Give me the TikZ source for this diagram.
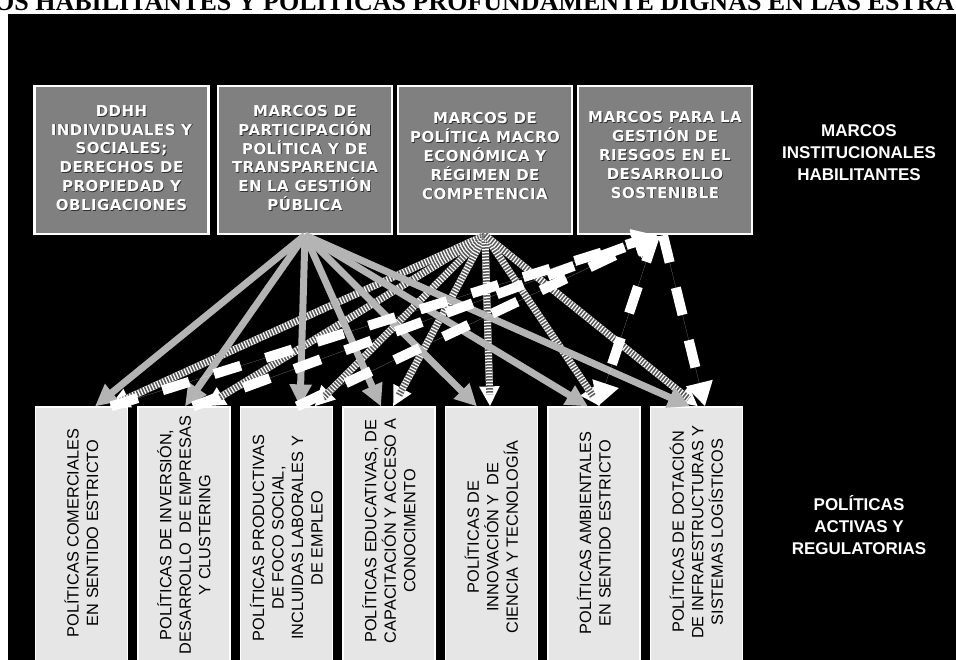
\documentclass[tikz,border=0pt]{standalone}
\usepackage{fontspec}
\setmainfont{Liberation Sans}
\newfontfamily\boxfont[LetterSpace=3]{DejaVu Sans}
\newfontfamily\titlefont{Liberation Serif}
\usetikzlibrary{arrows.meta}
\definecolor{boxgray}{HTML}{808080}
\definecolor{botfill}{HTML}{E6E6E6}
\definecolor{arrgray}{HTML}{B4B4B4}
\definecolor{stripe}{HTML}{5A5A5A}
\definecolor{shade}{HTML}{303030}
\tikzset{
  topbox/.style={draw=white, line width=2.5pt, fill=boxgray, minimum width=174pt, minimum height=148pt, inner sep=0pt},
  toptext/.style={font=\boxfont\bfseries\fontsize{15}{18.8}\selectfont, text=white, align=center, inner sep=0pt},
  topshadow/.style={toptext, text=shade},
  botbox/.style={draw=white, line width=1.2pt, fill=botfill, minimum width=92pt, minimum height=256pt, inner sep=0pt},
  bottext/.style={font=\fontsize{16.3}{19.5}\selectfont, text=black, align=center, inner sep=0pt, rotate=90},
  sidelabel/.style={font=\bfseries\fontsize{17}{22}\selectfont, text=white, align=center, inner sep=0pt},
  garrow/.style={draw=arrgray, line width=7pt, -{Triangle[length=22pt,width=21pt]}, fill=arrgray},
  sarrow/.style={draw=white, line width=7pt, -{Triangle[length=20pt,width=19pt]}, fill=white,
     postaction={draw=stripe, line width=7pt, dash pattern=on 1.5pt off 1.5pt, -, shorten >=12pt}},
  darrow/.style={draw=white, line width=10pt, dash pattern=on 28pt off 26pt, -{Triangle[length=24pt,width=26pt]}, fill=white}
}
\begin{document}
\begin{tikzpicture}[x=1pt,y=-1pt]
\useasboundingbox (0,0) rectangle (956,660);
\clip (0,0) rectangle (956,660);
\fill[white] (0,0) rectangle (956,660);
\node[anchor=base west, font=\titlefont\bfseries\fontsize{26}{30}\selectfont, inner sep=0pt] (title) at (-6,11) {OS HABILITANTES Y POLÍTICAS PROFUNDAMENTE DIGNAS EN LAS ESTRA};
\fill[black] (8,14) rectangle (960,664);

% top boxes
\node[topbox] (m1) at (121.5,160) {};
\node[topbox] (m2) at (305,160) {};
\node[topbox] (m3) at (485,160) {};
\node[topbox] (m4) at (665,160) {};
\node[topshadow] (s1) at (122.3,158.8) {DDHH\\INDIVIDUALES Y\\SOCIALES;\\DERECHOS DE\\PROPIEDAD Y\\OBLIGACIONES};
\node[toptext] (t1) at (121.5,158) {DDHH\\INDIVIDUALES Y\\SOCIALES;\\DERECHOS DE\\PROPIEDAD Y\\OBLIGACIONES};
\node[topshadow] (s2) at (305.8,158.8) {MARCOS DE\\PARTICIPACIÓN\\POLÍTICA Y DE\\TRANSPARENCIA\\EN LA GESTIÓN\\PÚBLICA};
\node[toptext] (t2) at (305,158) {MARCOS DE\\PARTICIPACIÓN\\POLÍTICA Y DE\\TRANSPARENCIA\\EN LA GESTIÓN\\PÚBLICA};
\node[topshadow] (s3) at (485.8,156.8) {MARCOS DE\\POLÍTICA MACRO\\ECONÓMICA Y\\RÉGIMEN DE\\COMPETENCIA};
\node[toptext] (t3) at (485,156) {MARCOS DE\\POLÍTICA MACRO\\ECONÓMICA Y\\RÉGIMEN DE\\COMPETENCIA};
\node[topshadow] (s4) at (665.8,155.8) {MARCOS PARA LA\\GESTIÓN DE\\RIESGOS EN EL\\DESARROLLO\\SOSTENIBLE};
\node[toptext] (t4) at (665,155) {MARCOS PARA LA\\GESTIÓN DE\\RIESGOS EN EL\\DESARROLLO\\SOSTENIBLE};

% bottom boxes
\node[botbox] (p1) at (81.5,535) {};
\node[botbox] (p2) at (184,535) {};
\node[botbox] (p3) at (286.5,535) {};
\node[botbox] (p4) at (389,535) {};
\node[botbox] (p5) at (491.5,535) {};
\node[botbox] (p6) at (594,535) {};
\node[botbox] (p7) at (696.5,535) {};
\node[bottext] (q1) at (81.5,533) {POLÍTICAS COMERCIALES\\EN SENTIDO ESTRICTO};
\node[bottext] (q2) at (184,535) {POLÍTICAS DE INVERSIÓN,\\DESARROLLO\ \ DE EMPRESAS\\Y CLUSTERING};
\node[bottext] (q3) at (286.5,538) {POLÍTICAS PRODUCTIVAS\\DE FOCO SOCIAL,\\INCLUIDAS LABORALES Y\\DE EMPLEO};
\node[bottext] (q4) at (389,531) {POLÍTICAS EDUCATIVAS, DE\\CAPACITACIÓN Y ACCESO A\\CONOCIMENTO};
\node[bottext] (q5) at (491.5,537) {POLÍTICAS DE\\INNOVACIÓN Y\ \ DE\\CIENCIA Y TECNOLOGÍA};
\node[bottext] (q6) at (594,533) {POLÍTICAS AMBIENTALES\\EN SENTIDO ESTRICTO};
\node[bottext] (q7) at (696.5,532) {POLÍTICAS DE DOTACIÓN\\DE INFRAESTRUCTURAS Y\\SISTEMAS LOGÍSTICOS};

% side labels
\node[sidelabel] (lab1) at (859,153) {MARCOS\\INSTITUCIONALES\\HABILITANTES};
\node[sidelabel] (lab2) at (859,525) {POLÍTICAS\\ACTIVAS Y\\REGULATORIAS};

% striped arrows from m3
\draw[sarrow] (m3.south) -- ([xshift=28pt]p1.north);
\draw[sarrow] (m3.south) -- ([xshift=21pt]p2.north);
\draw[sarrow] (m3.south) -- ([xshift=28pt]p3.north);
\draw[sarrow] (m3.south) -- ([xshift=4pt]p4.north);
\draw[sarrow] (m3.south) -- ([xshift=-1.5pt]p5.north);
\draw[sarrow] (m3.south) -- ([xshift=6pt]p6.north);
\draw[sarrow] (m3.south) -- ([xshift=1.5pt]p7.north);

% gray arrows from m2
\draw[garrow] (m2.south) -- ([xshift=13.5pt]p1.north);
\draw[garrow] (m2.south) -- ([xshift=1pt]p2.north);
\draw[garrow] (m2.south) -- ([xshift=13.5pt]p3.north);
\draw[garrow] (m2.south) -- ([xshift=-8pt]p4.north);
\draw[garrow] (m2.south) -- ([xshift=-14.5pt]p5.north);
\draw[garrow] (m2.south) -- ([xshift=-6pt]p6.north);
\draw[garrow] (m2.south) -- ([xshift=-6.5pt]p7.north);

% dashed white arrows
\draw[darrow] ([xshift=29.5pt]p1.north) -- ([xshift=-8pt]m4.south);
\draw[darrow] ([xshift=9pt]p2.north) -- ([xshift=-8pt]m4.south);
\draw[darrow] ([xshift=10.5pt]p3.north) -- ([xshift=-8pt]m4.south);
\draw[darrow] ([xshift=-10pt]m4.south) -- ([xshift=4pt]p6.north);
\draw[darrow] ([xshift=-2pt]m4.south) -- ([xshift=8.5pt]p7.north);
\end{tikzpicture}
\end{document}
